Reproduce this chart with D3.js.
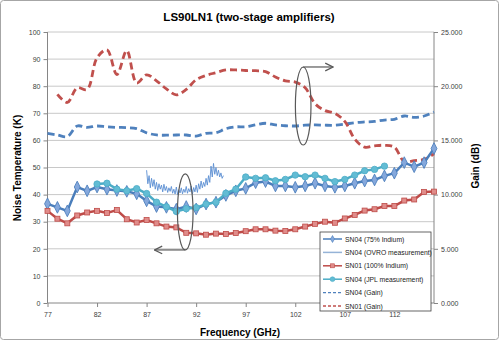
<!DOCTYPE html>
<html>
<head>
<meta charset="utf-8">
<script src="https://cdn.jsdelivr.net/npm/d3@7"></script>
<style>
  body { margin: 0; background: #fff; }
  .canvas { width: 500px; height: 341px; }
  text { font-family: "Liberation Sans", Arial, sans-serif; }
  .axis path, .axis line { stroke: #868686; }
  .axis text { fill: #404040; font-size: 7px; }
</style>
</head>
<body>
<div class="canvas"></div>
<script>
const freqs = [77, 78, 79, 80, 81, 82, 83, 84, 85, 86, 87, 88, 89, 90, 91, 92, 93, 94, 95, 96,
  97, 98, 99, 100, 101, 102, 103, 104, 105, 106, 107, 108, 109, 110, 111, 112, 113, 114, 115, 116];

// noise temperature (K), left axis
const sn04Indium = [36.6, 35.3, 34, 42.8, 41.4, 42.8, 42, 41.5, 41.2, 40.3, 37.7, 35.6, 35.3, 34.6, 35.6, 34.7, 36.5, 37.2, 39.7, 41.4,
  42.3, 44.4, 44.8, 43.2, 43.2, 42.7, 43.2, 44.2, 43.2, 42.7, 43.2, 44.2, 45, 45.4, 46.9, 47.9, 51.8, 50.3, 51.8, 57];
const sn01Indium = [34, 31.1, 29.4, 32.3, 33.4, 34, 33.2, 34.3, 30.9, 29.7, 30.6, 29.4, 28.2, 27.9, 25.9, 25.7, 25.2, 25.6, 25.5, 25.8,
  26.5, 27.2, 27.2, 26.7, 26.6, 27.2, 28.2, 29.2, 30, 29.6, 31.2, 32.5, 34.1, 34.6, 35.8, 35.8, 37.8, 38.2, 41, 41.1];
const jplFreqs = [82, 83, 84, 85, 86, 87, 88, 89, 90, 91, 92, 93, 94, 95, 96, 97, 98, 99, 100, 101, 102, 103, 104, 105, 106, 107, 108, 109, 110, 111];
const sn04Jpl = [43.9, 44.2, 42, 41.4, 42.2, 40.4, 37.2, 35.5, 33.8, 34.8, 35.2, 36.5, 37.2, 40.5, 42, 46.5, 46, 46.2, 45.1, 45.6,
  47.2, 46.6, 47.2, 46, 44.8, 45.6, 47.2, 48.8, 49.3, 50.5];

// OVRO sweep, 0.125 GHz steps from 87 GHz
const ovroStart = 87, ovroStep = 0.125;
const ovro = [49, 44, 47, 42.5, 46, 43, 45.5, 42, 44.5, 41.5, 44, 42, 43.5, 41, 43.8, 41.5, 43, 40.8, 42.5, 41.2,
  43, 40.5, 42, 40.2, 42.8, 40, 41.8, 40.6, 42.5, 40.3, 42, 40.8, 43, 40.5, 42.2, 41, 43.2, 40.2, 42.6, 41,
  43.5, 40.8, 44, 42, 45, 42.5, 44.5, 43, 46, 43.5, 47, 44.5, 50.5, 46.5, 51.5, 47.5, 50, 47, 49, 46.5, 48, 46, 47];

// gain (dB), right axis
const sn04Gain = [15.65, 15.5, 15.35, 16.33, 16.2, 16.33, 16.25, 16.2, 16.18, 16.08, 15.7, 15.5, 15.48, 15.5, 15.5, 15.4, 15.65, 15.7, 16.08, 16.25,
  16.25, 16.43, 16.58, 16.43, 16.35, 16.33, 16.4, 16.43, 16.4, 16.4, 16.5, 16.63, 16.7, 16.75, 16.88, 16.95, 17.25, 17.13, 17.25, 17.63];
const sn01GainFreqs = freqs.slice(1);
const sn01Gain = [19.25, 18.5, 19.85, 19.7, 22.63, 23.35, 21.08, 23.28, 20.3, 21.05, 20.5, 19.75, 19.2, 19.7, 20.6, 21.0, 21.25, 21.5, 21.5,
  21.45, 21.43, 21.35, 20.85, 20.5, 20.38, 19.85, 18.38, 17.75, 17.5, 16.75, 15.13, 14.38, 14.5, 14.55, 14.38, 13.05, 13.13, 13.25, 13.75];

const xTicks = [77, 82, 87, 92, 97, 102, 107, 112];
const tempTicks = [0, 10, 20, 30, 40, 50, 60, 70, 80, 90, 100];
const gainTicks = [0, 5, 10, 15, 20, 25];

const legendNames = ["SN04 (75% Indium)", "SN04 (OVRO measurement)", "SN01 (100% Indium)",
  "SN04 (JPL measurement)", "SN04 (Gain)", "SN01 (Gain)"];

const colors = {
  sn04: "#4a7ebb", ovro: "#5b8fd2", sn01: "#be4b48", jpl: "#4bacc6",
  gain04: "#4f81bd", gain01: "#c0504d"
};

const W = 500, H = 341;
const margin = { top: 32, right: 66, bottom: 38, left: 47.5 };
const innerW = W - margin.left - margin.right;
const innerH = H - margin.top - margin.bottom;

const svg = d3.select(".canvas").append("svg").attr("width", W).attr("height", H);

svg.append("rect").attr("x", 0.5).attr("y", 0.5).attr("width", W - 2).attr("height", H - 2)
  .attr("rx", 3).attr("fill", "#fff").attr("stroke", "#a6a6a6");

const x = d3.scaleLinear().domain([77, 116]).range([0, innerW]);
const y = d3.scaleLinear().domain([0, 100]).range([innerH, 0]);
const yGain = d3.scaleLinear().domain([0, 25]).range([innerH, 0]);

const chart = svg.append("g").attr("transform", `translate(${margin.left}, ${margin.top})`);

// gridlines
chart.append("g").selectAll("line").data(tempTicks.slice(1)).enter().append("line")
  .attr("x1", 0).attr("x2", innerW)
  .attr("y1", (d) => y(d)).attr("y2", (d) => y(d))
  .attr("stroke", "#c8c8c8").attr("stroke-width", 1);

const yAxis = d3.axisLeft(y).tickValues(tempTicks).tickSize(4).tickPadding(3);
const yAxisR = d3.axisRight(yGain).tickValues(gainTicks).tickSize(4).tickPadding(3).tickFormat(d3.format(".3f"));
const xAxis = d3.axisBottom(x).tickValues(xTicks).tickSize(4).tickPadding(5).tickFormat(d3.format("d"));

chart.append("g").attr("class", "axis").call(yAxis).call((g) => g.select(".domain").attr("d", `M0,0V${innerH}`));
chart.append("g").attr("class", "axis").attr("transform", `translate(${innerW},0)`).call(yAxisR)
  .call((g) => g.select(".domain").attr("d", `M0,0V${innerH}`));
chart.append("g").attr("class", "axis").attr("transform", `translate(0,${innerH})`).call(xAxis)
  .call((g) => g.select(".domain").attr("d", `M0,0H${innerW}`));

// gain curves (dashed)
const gainLine = d3.line().curve(d3.curveCatmullRom.alpha(0.5))
  .x((d) => x(d[0])).y((d) => yGain(d[1]));

chart.append("path").datum(freqs.map((f, i) => [f, sn04Gain[i]]))
  .attr("d", gainLine).attr("fill", "none").attr("stroke", colors.gain04)
  .attr("stroke-width", 2.8).attr("stroke-dasharray", "7,4");
chart.append("path").datum(sn01GainFreqs.map((f, i) => [f, sn01Gain[i]]))
  .attr("d", gainLine).attr("fill", "none").attr("stroke", colors.gain01)
  .attr("stroke-width", 2.8).attr("stroke-dasharray", "7,4");

const tempLine = d3.line().x((d) => x(d[0])).y((d) => y(d[1]));

// SN04 75% Indium
const sn04Data = freqs.map((f, i) => [f, sn04Indium[i]]);
chart.append("path").datum(sn04Data).attr("d", tempLine)
  .attr("fill", "none").attr("stroke", colors.sn04).attr("stroke-width", 2.5);
chart.append("g").selectAll("path").data(sn04Data).enter().append("path")
  .attr("d", d3.symbol(d3.symbolDiamond, 30))
  .attr("transform", (d) => `translate(${x(d[0])},${y(d[1])}) scale(1,1.15)`)
  .attr("fill", "#85a8dc").attr("stroke", colors.sn04).attr("stroke-width", 0.8);

// OVRO sweep
chart.append("path").datum(ovro.map((v, i) => [ovroStart + i * ovroStep, v]))
  .attr("d", tempLine).attr("fill", "none").attr("stroke", colors.ovro).attr("stroke-width", 0.9);

// SN01 100% Indium
const sn01Data = freqs.map((f, i) => [f, sn01Indium[i]]);
chart.append("path").datum(sn01Data).attr("d", tempLine)
  .attr("fill", "none").attr("stroke", colors.sn01).attr("stroke-width", 2.5);
chart.append("g").selectAll("rect").data(sn01Data).enter().append("rect")
  .attr("x", (d) => x(d[0]) - 2.5).attr("y", (d) => y(d[1]) - 2.5)
  .attr("width", 5).attr("height", 5)
  .attr("fill", "#e08c8a").attr("stroke", colors.sn01).attr("stroke-width", 0.8);

// SN04 JPL
const jplData = jplFreqs.map((f, i) => [f, sn04Jpl[i]]);
chart.append("path").datum(jplData).attr("d", tempLine)
  .attr("fill", "none").attr("stroke", colors.jpl).attr("stroke-width", 2.5);
chart.append("g").selectAll("circle").data(jplData).enter().append("circle")
  .attr("cx", (d) => x(d[0])).attr("cy", (d) => y(d[1])).attr("r", 3.2)
  .attr("fill", "#62bcd4").attr("stroke", colors.jpl).attr("stroke-width", 0.8);

// annotation ellipses with arrows
svg.append("defs").append("marker").attr("id", "arrow")
  .attr("viewBox", "0 0 10 10").attr("refX", 9).attr("refY", 5)
  .attr("markerWidth", 8).attr("markerHeight", 8).attr("orient", "auto-start-reverse")
  .append("path").attr("d", "M1,1L9,5L1,9").attr("fill", "none").attr("stroke", "#595959").attr("stroke-width", 1.3);

const notes = [
  { f: 90.9, k: 33.6, ry: 38, toF: 87.8 },
  { f: 102.8, k: 72.7, ry: 39, toF: 105.8 }
];
notes.forEach((n, i) => {
  const cx = x(n.f), cy = y(n.k);
  chart.append("ellipse").attr("cx", cx).attr("cy", cy).attr("rx", 7.8).attr("ry", n.ry)
    .attr("fill", "none").attr("stroke", "#595959").attr("stroke-width", 1.2);
  const ay = i === 0 ? cy + n.ry : cy - n.ry;
  chart.append("line").attr("x1", cx).attr("y1", ay).attr("x2", x(n.toF)).attr("y2", ay)
    .attr("stroke", "#595959").attr("stroke-width", 1.2).attr("marker-end", "url(#arrow)");
});

// titles
svg.append("text").attr("x", 249).attr("y", 21).attr("text-anchor", "middle")
  .attr("font-size", 11.5).attr("font-weight", "bold").attr("fill", "#000")
  .text("LS90LN1 (two-stage amplifiers)");
svg.append("text").attr("transform", "translate(21,168) rotate(-90)").attr("text-anchor", "middle")
  .attr("font-size", 10).attr("font-weight", "bold").text("Noise Temperature (K)");
svg.append("text").attr("transform", "translate(479,166) rotate(-90)").attr("text-anchor", "middle")
  .attr("font-size", 10).attr("font-weight", "bold").text("Gain (dB)");
svg.append("text").attr("x", 240).attr("y", 336).attr("text-anchor", "middle")
  .attr("font-size", 10).attr("font-weight", "bold").text("Frequency (GHz)");

// legend
const legend = svg.append("g").attr("transform", "translate(320,232)");
legend.append("rect").attr("width", 111).attr("height", 79)
  .attr("fill", "#fff").attr("stroke", "#404040").attr("stroke-width", 0.8);
const legendStyle = [
  { c: colors.sn04, w: 1.5, dash: null, mark: "diamond" },
  { c: "#95b3d7", w: 1.5, dash: null, mark: null },
  { c: colors.sn01, w: 1.5, dash: null, mark: "square" },
  { c: colors.jpl, w: 1.5, dash: null, mark: "circle" },
  { c: colors.gain04, w: 1.3, dash: "3,2", mark: null },
  { c: colors.gain01, w: 1.3, dash: "3,2", mark: null }
];
const item = legend.selectAll("g").data(legendNames).enter().append("g")
  .attr("transform", (d, i) => `translate(0,${7 + i * 13.4})`);
item.append("line").attr("x1", 3).attr("x2", 22).attr("y1", 0).attr("y2", 0)
  .attr("stroke", (d, i) => legendStyle[i].c).attr("stroke-width", (d, i) => legendStyle[i].w)
  .attr("stroke-dasharray", (d, i) => legendStyle[i].dash);
item.each(function (d, i) {
  const g = d3.select(this), s = legendStyle[i];
  if (s.mark === "diamond") g.append("path").attr("d", d3.symbol(d3.symbolDiamond, 14)).attr("transform", "translate(12.5,0)").attr("fill", "#85a8dc").attr("stroke", s.c).attr("stroke-width", 0.6);
  if (s.mark === "square") g.append("rect").attr("x", 10.5).attr("y", -2).attr("width", 4).attr("height", 4).attr("fill", "#e08c8a").attr("stroke", s.c).attr("stroke-width", 0.6);
  if (s.mark === "circle") g.append("circle").attr("cx", 12.5).attr("cy", 0).attr("r", 2.4).attr("fill", "#62bcd4").attr("stroke", s.c).attr("stroke-width", 0.6);
});
item.append("text").attr("x", 25).attr("y", 2.5).attr("font-size", 6.8).attr("fill", "#222").text((d) => d);
</script>
</body>
</html>
